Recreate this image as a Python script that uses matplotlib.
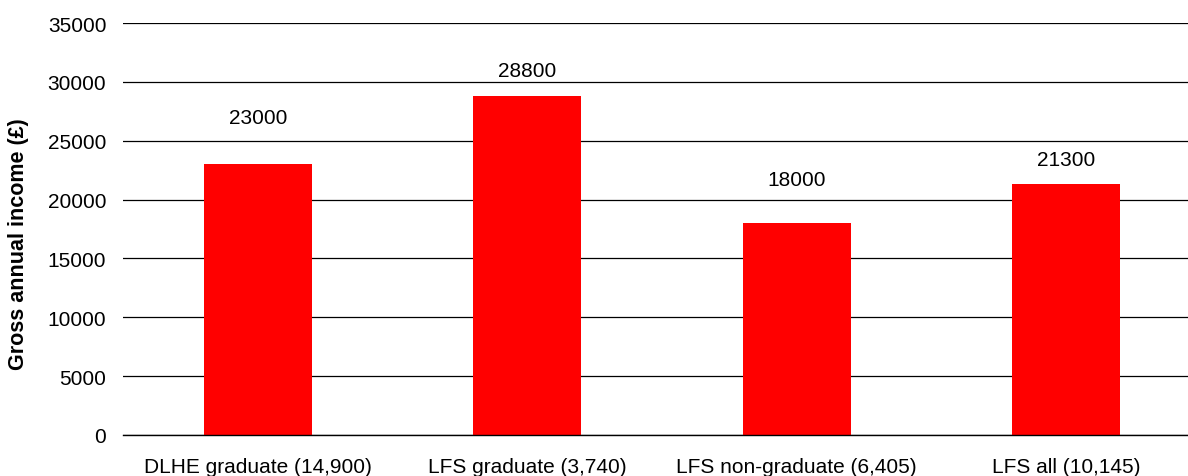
import matplotlib
matplotlib.use("Agg")
import matplotlib.pyplot as plt

categories = ["DLHE graduate (14,900)", "LFS graduate (3,740)",
              "LFS non-graduate (6,405)", "LFS all (10,145)"]
values = [23000, 28800, 18000, 21300]
label_offsets = [4000, 2200, 3700, 2100]  # label placement above bar tops (data units)

plt.rcParams['font.family'] = ['Liberation Sans', 'DejaVu Sans']

fig = plt.figure(figsize=(11.88, 4.77), dpi=100)
ax = fig.add_axes([123/1188, 1 - 436/477, 1078/1188, 412/477])

x = list(range(len(categories)))
ax.bar(x, values, width=0.40, color="#ff0000", zorder=3)
for xi, v, off in zip(x, values, label_offsets):
    ax.text(xi, v + off, str(v), ha="center", va="center", fontsize=15)

ax.set_xlim(-0.5, 3.5)
ax.set_ylim(0, 35000)
ax.set_yticks(range(0, 35001, 5000))
ax.set_xticks(x)
ax.set_xticklabels(categories, fontsize=15)
ax.tick_params(axis="y", labelsize=15, length=0, pad=12)
ax.tick_params(axis="x", length=0, pad=16)
ax.yaxis.grid(True, color="#000000", linewidth=0.9, zorder=0)
for s in ["top", "right", "left"]:
    ax.spines[s].set_visible(False)
ax.spines["bottom"].set_color("#000000")
ax.spines["bottom"].set_linewidth(1.0)
ax.spines["bottom"].set_zorder(4)
ax.set_ylabel("Gross annual income (£)", fontsize=15.5, fontweight="bold",
              va="center")
ax.yaxis.set_label_coords(-0.097, 0.466)

fig.savefig("out.png", dpi=100)
